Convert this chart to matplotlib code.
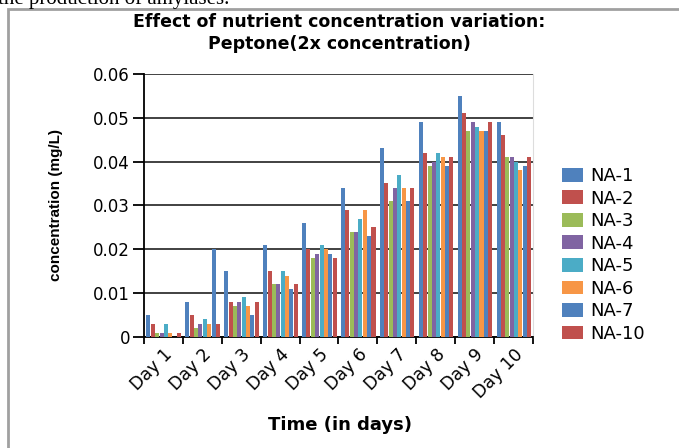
import numpy as np
import matplotlib.pyplot as plt
from matplotlib.patches import Rectangle

days = ["Day 1", "Day 2", "Day 3", "Day 4", "Day 5",
        "Day 6", "Day 7", "Day 8", "Day 9", "Day 10"]

na1 = [0.005, 0.008, 0.015, 0.021, 0.026, 0.034, 0.043, 0.049, 0.055, 0.049]
na2 = [0.003, 0.005, 0.008, 0.015, 0.020, 0.029, 0.035, 0.042, 0.051, 0.046]
na3 = [0.001, 0.002, 0.007, 0.012, 0.018, 0.024, 0.031, 0.039, 0.047, 0.041]
na4 = [0.001, 0.003, 0.008, 0.012, 0.019, 0.024, 0.034, 0.040, 0.049, 0.041]
na5 = [0.003, 0.004, 0.009, 0.015, 0.021, 0.027, 0.037, 0.042, 0.048, 0.040]
na6 = [0.001, 0.003, 0.007, 0.014, 0.020, 0.029, 0.034, 0.041, 0.047, 0.038]
na7 = [0.000, 0.020, 0.005, 0.011, 0.019, 0.023, 0.031, 0.039, 0.047, 0.039]
na10 = [0.001, 0.003, 0.008, 0.012, 0.018, 0.025, 0.034, 0.041, 0.049, 0.041]

series = [na1, na2, na3, na4, na5, na6, na7, na10]
names = ["NA-1", "NA-2", "NA-3", "NA-4", "NA-5", "NA-6", "NA-7", "NA-10"]
colors = ["#4F81BD", "#C0504D", "#9BBB59", "#8064A2",
          "#4BACC6", "#F79646", "#4F81BD", "#C0504D"]

fig = plt.figure(figsize=(6.79, 4.48), dpi=100)
ax = fig.add_axes([0.212, 0.248, 0.573, 0.587])

x = np.arange(len(days))
w = 0.112
for i, (vals, nm, c) in enumerate(zip(series, names, colors)):
    ax.bar(x - 0.5 + 0.06 + w * (i + 0.5), vals, width=w * 0.92,
           color=c, label=nm, zorder=3)

ax.set_xlim(-0.5, len(days) - 0.5)
ax.set_ylim(0, 0.06)
ax.set_yticks(np.arange(0, 0.061, 0.01))
ax.set_yticklabels(["0", "0.01", "0.02", "0.03", "0.04", "0.05", "0.06"],
                   fontsize=12)
ax.yaxis.grid(True, color="#333333", linewidth=1.3)
ax.set_axisbelow(True)

# ticks between the day groups, labels at the group centres
ax.set_xticks(np.arange(-0.5, len(days)), minor=False)
ax.set_xticklabels([])
ax.set_xticks(x, minor=True)
ax.set_xticklabels(days, minor=True, rotation=45, ha="right",
                   rotation_mode="anchor", fontsize=12.5)
ax.tick_params(axis="x", which="major", length=5, width=1.3)
ax.tick_params(axis="x", which="minor", length=0, pad=6)
ax.tick_params(axis="y", length=8, width=1.3, pad=2)

ax.spines["top"].set_visible(False)
ax.spines["right"].set_color("#dddddd")
ax.spines["left"].set_linewidth(1.3)
ax.spines["bottom"].set_linewidth(1.3)

ax.set_ylabel("concentration (mg/L)", fontsize=11, fontweight="bold",
              family="Liberation Sans", labelpad=22)
fig.text(0.5, 0.051, "Time (in days)", ha="center", va="center",
         fontsize=13, fontweight="bold")
fig.text(0.5, 0.926, "Effect of nutrient concentration variation:\nPeptone(2x concentration)",
         ha="center", va="center", fontsize=12.5, fontweight="bold",
         linespacing=1.3)

fig.legend(loc="center left", bbox_to_anchor=(0.804, 0.431), frameon=False,
           fontsize=13, handlelength=1.15, handleheight=0.8,
           labelspacing=0.25, handletextpad=0.4)

# frame of the embedded picture and the cut-off line of page text
fig.patches.append(Rectangle((7.5 / 679, -0.1), 1.1, 1.1 - 9.5 / 448,
                             transform=fig.transFigure, fill=False,
                             edgecolor="#a0a0a0", linewidth=2))
fig.text(-0.003, 1 - 4 / 448, "the production of amylases.", fontsize=15,
         family="Liberation Serif", va="baseline", ha="left")

fig.savefig("out.png", dpi=100)
